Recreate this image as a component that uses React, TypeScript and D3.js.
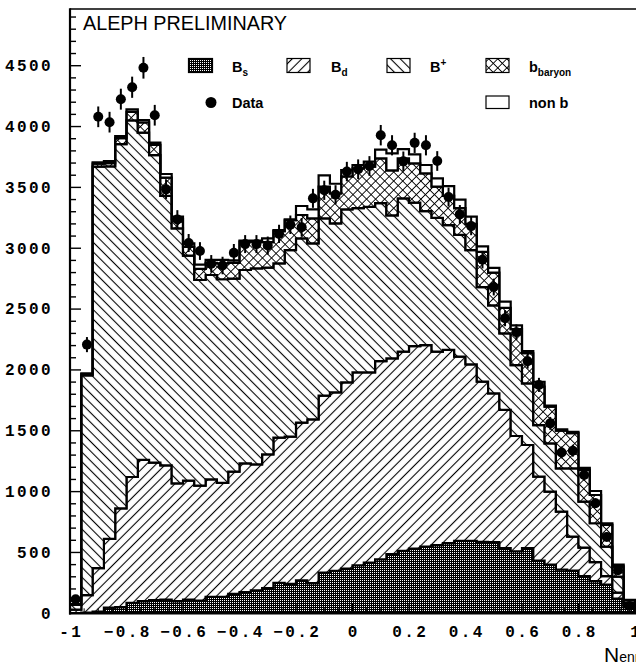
import React from "react";
import * as d3 from "d3";

// ---------- data ----------
const binCenters = [
  -0.98, -0.94, -0.9, -0.86, -0.82, -0.78, -0.74, -0.7, -0.66, -0.62,
  -0.58, -0.54, -0.5, -0.46, -0.42, -0.38, -0.34, -0.3, -0.26, -0.22,
  -0.18, -0.14, -0.1, -0.06, -0.02, 0.02, 0.06, 0.1, 0.14, 0.18,
  0.22, 0.26, 0.3, 0.34, 0.38, 0.42, 0.46, 0.5, 0.54, 0.58,
  0.62, 0.66, 0.7, 0.74, 0.78, 0.82, 0.86, 0.9, 0.94, 0.98,
];
const binWidth = 0.04;

const Bs = [
  2, 5, 15, 46, 50, 85, 100, 108, 112, 100,
  112, 105, 135, 135, 160, 175, 188, 208, 250, 242,
  270, 248, 335, 348, 368, 395, 417, 444, 486, 513,
  532, 549, 560, 576, 595, 595, 588, 585, 535, 510,
  535, 433, 400, 360, 350, 305, 265, 235, 120, 50,
];
const Bd = [
  28, 145, 357, 565, 813, 1035, 1160, 1130, 1104, 968,
  978, 944, 966, 936, 1004, 1057, 1036, 1098, 1193, 1210,
  1297, 1346, 1453, 1468, 1530, 1585, 1563, 1629, 1609, 1637,
  1664, 1655, 1590, 1588, 1514, 1451, 1316, 1223, 1136, 947,
  848, 690, 600, 475, 280, 235, 155, 70, 50, 15,
];
const Bplus = [
  42, 1805, 3298, 3061, 2992, 2930, 2690, 2527, 2214, 2096,
  1850, 1690, 1679, 1674, 1586, 1589, 1611, 1534, 1433, 1533,
  1514, 1446, 1458, 1389, 1422, 1350, 1360, 1297, 1175, 1260,
  1179, 1101, 1100, 1026, 1000, 939, 776, 722, 630, 583,
  507, 424, 397, 356, 561, 377, 320, 243, 131, 10,
];
const bBaryon = [
  0, 10, 25, 28, 50, 70, 85, 85, 150, 76,
  70, 91, 100, 130, 130, 234, 220, 210, 264, 245,
  192, 206, 260, 245, 270, 327, 330, 369, 370, 329,
  323, 311, 256, 240, 221, 215, 290, 270, 209, 295,
  247, 316, 301, 309, 289, 261, 232, 178, 84, 15,
];
const nonB = [
  3, 7, 11, 16, 17, 21, 19, 18, 30, 20,
  30, 35, 25, 30, 20, 7, 7, 31, 10, 8,
  74, 74, 92, 80, 53, 27, 41, 71, 140, 76,
  74, 68, 68, 80, 70, 59, 45, 38, 51, 31,
  18, 40, 8, 12, 12, 18, 33, 14, 15, 20,
];
const dataVals = [
  115, 2208, 4080, 4036, 4225, 4323, 4483, 4093, 3484, 3237,
  3043, 2977, 2872, 2858, 2962, 3034, 3034, 3022, 3118, 3193,
  3172, 3410, 3476, 3440, 3630, 3649, 3676, 3929, 3846, 3714,
  3866, 3846, 3717, 3421, 3278, 3182, 2906, 2681, 2425, 2310,
  2072, 1877, 1561, 1322, 1336, 1136, 905, 628, 354, 60,
];
const dataErr = [
  15, 62, 85, 85, 86, 87, 89, 85, 79, 76,
  74, 73, 72, 72, 73, 74, 74, 74, 75, 76,
  76, 78, 79, 78, 80, 81, 81, 84, 83, 81,
  83, 83, 81, 78, 77, 75, 72, 69, 66, 64,
  61, 58, 53, 49, 49, 45, 40, 34, 25, 11,
];

const yTicksMajor = [0, 500, 1000, 1500, 2000, 2500, 3000, 3500, 4000, 4500];
const xTicksMajor = [-1, -0.8, -0.6, -0.4, -0.2, 0, 0.2, 0.4, 0.6, 0.8, 1];

const seriesKeys = ["Bs", "Bd", "Bplus", "bBaryon", "nonB"];
const seriesFill: Record<string, string> = {
  Bs: "url(#pBs)",
  Bd: "url(#pBd)",
  Bplus: "url(#pBp)",
  bBaryon: "url(#pBb)",
  nonB: "#fff",
};

// ---------- layout ----------
const W = 636;
const H = 664;
const X0 = 70;
const X1 = 635;
const YB = 613.3;
const YT = 9;

export default function App() {
  const x = d3.scaleLinear().domain([-1, 1]).range([X0, X1]);
  const y = d3.scaleLinear().domain([0, 4966]).range([YB, YT]);

  const rows = binCenters.map((c, i) => ({
    c,
    Bs: Bs[i],
    Bd: Bd[i],
    Bplus: Bplus[i],
    bBaryon: bBaryon[i],
    nonB: nonB[i],
  }));
  const stacked = d3.stack<any>().keys(seriesKeys)(rows);

  type P = { x: number; y0: number; y1: number };
  const area = d3
    .area<P>()
    .x((d) => x(d.x))
    .y0((d) => y(d.y0))
    .y1((d) => y(d.y1));

  const layerPaths = stacked.map((s) => {
    const pts: P[] = [];
    s.forEach((seg, i) => {
      const c = binCenters[i];
      pts.push({ x: c - binWidth / 2, y0: seg[0], y1: seg[1] });
      pts.push({ x: c + binWidth / 2, y0: seg[0], y1: seg[1] });
    });
    return { key: s.key, d: area(pts) || "" };
  });

  const yMinor = d3.range(0, 4967, 100);
  const xMinor = d3.range(-1, 1.0001, 0.05);

  const mono = "'Liberation Mono', 'Courier New', monospace";
  const sans = "'Liberation Sans', Arial, Helvetica, sans-serif";

  const fmtX = (v: number) => (v === 0 ? "0" : Math.abs(v) === 1 ? String(v) : d3.format(".1f")(v));

  return (
    <div style={{ position: "absolute", left: 0, top: 0, width: W, height: H, background: "#fff" }}>
      <svg width={W} height={H} viewBox={`0 0 ${W} ${H}`} style={{ display: "block" }}>
        <defs>
          <pattern id="pBs" width={2} height={2} patternUnits="userSpaceOnUse">
            <rect width={2} height={2} fill="#000" />
            <rect x={0} y={0} width={1} height={1} fill="#fff" />
          </pattern>
          <pattern id="pBd" width={6.8} height={10} patternUnits="userSpaceOnUse" patternTransform="rotate(45)">
            <rect width={6.8} height={10} fill="#fff" />
            <line x1={3.4} y1={-1} x2={3.4} y2={11} stroke="#000" strokeWidth={1.1} />
          </pattern>
          <pattern id="pBp" width={6.8} height={10} patternUnits="userSpaceOnUse" patternTransform="rotate(-45)">
            <rect width={6.8} height={10} fill="#fff" />
            <line x1={3.4} y1={-1} x2={3.4} y2={11} stroke="#000" strokeWidth={1.1} />
          </pattern>
          <pattern id="pBb" width={6.4} height={6.4} patternUnits="userSpaceOnUse" patternTransform="rotate(45)">
            <rect width={6.4} height={6.4} fill="#fff" />
            <line x1={3.2} y1={-1} x2={3.2} y2={7.4} stroke="#000" strokeWidth={0.9} />
            <line x1={-1} y1={3.2} x2={7.4} y2={3.2} stroke="#000" strokeWidth={0.9} />
          </pattern>
          <clipPath id="plotClip">
            <rect x={X0} y={YT} width={X1 - X0 + 2} height={YB - YT} />
          </clipPath>
        </defs>

        {/* stacked histograms */}
        <g clipPath="url(#plotClip)">
          {layerPaths.map((l) => (
            <path
              key={l.key}
              d={l.d}
              fill={seriesFill[l.key]}
              stroke="#000"
              strokeWidth={2.2}
              strokeLinejoin="miter"
            />
          ))}
        </g>

        {/* data points */}
        <g>
          {binCenters.map((c, i) => (
            <g key={i}>
              <line
                x1={x(c)}
                x2={x(c)}
                y1={y(dataVals[i] - dataErr[i])}
                y2={y(dataVals[i] + dataErr[i])}
                stroke="#000"
                strokeWidth={2}
              />
              <circle cx={x(c)} cy={y(dataVals[i])} r={5} fill="#000" />
            </g>
          ))}
        </g>

        {/* frame */}
        <line x1={X0} x2={W + 2} y1={YT} y2={YT} stroke="#000" strokeWidth={1.6} />
        <line x1={X0} x2={X0} y1={YT - 0.8} y2={YB + 1.2} stroke="#000" strokeWidth={2.2} />
        <line x1={X0 - 1} x2={W + 2} y1={YB} y2={YB} stroke="#000" strokeWidth={2.6} />

        {/* y ticks */}
        {yMinor.map((v) => (
          <line
            key={v}
            x1={X0}
            x2={X0 + (v % 500 === 0 ? 11 : 6)}
            y1={y(v)}
            y2={y(v)}
            stroke="#000"
            strokeWidth={1.4}
          />
        ))}
        {/* x ticks */}
        {xMinor.map((v, i) => {
          const major = Math.abs(Math.round(v * 5) - v * 5) < 1e-6;
          return (
            <line
              key={i}
              x1={x(v)}
              x2={x(v)}
              y1={YB}
              y2={YB - (major ? 10 : 5)}
              stroke="#000"
              strokeWidth={1}
            />
          );
        })}

        {/* y labels */}
        {yTicksMajor.map((v) => (
          <text
            key={v}
            x={53}
            y={y(v) + 5.3}
            textAnchor="end"
            fontFamily={mono}
            fontWeight="bold"
            fontSize={16}
            letterSpacing={2.4}
            fill="#000"
          >
            {String(v)}
          </text>
        ))}
        {/* x labels */}
        {xTicksMajor.map((v) => (
          <text
            key={v}
            x={x(v) + 1.2}
            y={637}
            textAnchor="middle"
            fontFamily={mono}
            fontWeight="bold"
            fontSize={16}
            letterSpacing={2.4}
            fill="#000"
          >
            {fmtX(v)}
          </text>
        ))}

        {/* axis title */}
        <text x={604} y={661.5} fontFamily={sans} fontSize={21} fill="#000">
          N
          <tspan fontSize={14} dy={0.5}>enr</tspan>
        </text>

        {/* title */}
        <text x={83} y={30} fontFamily={sans} fontSize={20.5} textLength={204} lengthAdjust="spacingAndGlyphs" fill="#000">
          ALEPH PRELIMINARY
        </text>

        {/* legend */}
        <g fontFamily={sans} fontWeight="bold" fill="#000">
          <rect x={188.5} y={58.5} width={24} height={14} fill="url(#pBs)" stroke="#000" strokeWidth={1.2} />
          <text x={232} y={72} fontSize={14.5}>
            B<tspan fontSize={10} dy={4}>s</tspan>
          </text>
          <rect x={287} y={58.5} width={23} height={14} fill="url(#pBd)" stroke="#000" strokeWidth={1.2} />
          <text x={331} y={72} fontSize={14.5}>
            B<tspan fontSize={10} dy={4}>d</tspan>
          </text>
          <rect x={387} y={58.5} width={23} height={14} fill="url(#pBp)" stroke="#000" strokeWidth={1.2} />
          <text x={430} y={72} fontSize={14.5}>
            B<tspan fontSize={10} dy={-6}>+</tspan>
          </text>
          <rect x={486} y={58.5} width={23} height={14} fill="url(#pBb)" stroke="#000" strokeWidth={1.2} />
          <text x={529} y={72} fontSize={14.5}>
            b<tspan fontSize={10} dy={4}>baryon</tspan>
          </text>
          <circle cx={211} cy={102.5} r={5.5} fill="#000" />
          <text x={232} y={107.5} fontSize={14.5}>Data</text>
          <rect x={486} y={96} width={23} height={12.5} fill="#fff" stroke="#000" strokeWidth={1.2} />
          <text x={529} y={107.5} fontSize={14.5}>non b</text>
        </g>
      </svg>
    </div>
  );
}
